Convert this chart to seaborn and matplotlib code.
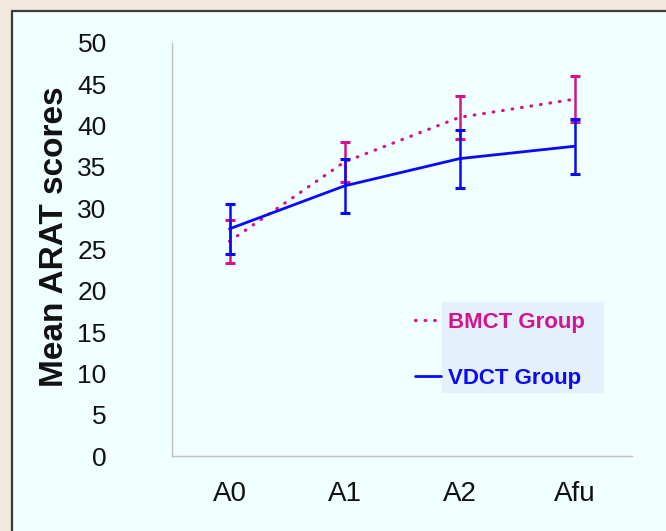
import matplotlib
matplotlib.use("Agg")
import matplotlib.pyplot as plt
from matplotlib.lines import Line2D
from matplotlib.patches import Rectangle
import numpy as np
import pandas as pd
import seaborn as sns

# values
timepoints = ["A0", "A1", "A2", "Afu"]
bmct_mean = [26.0, 35.6, 41.0, 43.2]
bmct_sd = [2.6, 2.4, 2.6, 2.8]
vdct_mean = [27.5, 32.7, 36.0, 37.5]
vdct_sd = [3.0, 3.3, 3.5, 3.35]

BMCT_COLOR = "#D4138C"
VDCT_COLOR = "#0A0AF5"
PANEL = "#F0FFFF"
DOTS = (0, (0.2, 2.8))

sns.set_theme(style="white")
plt.rcParams["font.family"] = ["Liberation Sans", "DejaVu Sans"]

df = pd.DataFrame({
    "time": timepoints * 2,
    "score": bmct_mean + vdct_mean,
    "group": ["BMCT Group"] * 4 + ["VDCT Group"] * 4,
})

fig = plt.figure(figsize=(6.66, 5.31), dpi=100, facecolor="#F1E8DE")
# slide panel behind the chart
fig.add_artist(Rectangle((12 / 666, -0.01), 1.0, 1 - 11 / 531 + 0.01,
                         transform=fig.transFigure, facecolor=PANEL,
                         edgecolor="#3C3C3C", lw=1.6, zorder=-5))
ax = fig.add_axes([172 / 666, 1 - 456 / 531, (632 - 172) / 666, (456 - 43) / 531])
ax.set_facecolor(PANEL)

bm = df[df["group"] == "BMCT Group"]
vd = df[df["group"] == "VDCT Group"]

sns.lineplot(data=bm, x="time", y="score", ax=ax, color=BMCT_COLOR, lw=2.3,
             sort=False)
ax.lines[-1].set_linestyle(DOTS)
ax.lines[-1].set_dash_capstyle("round")
ax.errorbar(timepoints, bmct_mean, yerr=bmct_sd, fmt="none", ecolor=BMCT_COLOR,
            elinewidth=1.8, capsize=3.3, capthick=2.2)
sns.lineplot(data=vd, x="time", y="score", ax=ax, color=VDCT_COLOR, lw=2.0,
             sort=False)
ax.errorbar(timepoints, vdct_mean, yerr=vdct_sd, fmt="none", ecolor=VDCT_COLOR,
            elinewidth=1.8, capsize=3.3, capthick=2.2)

ax.set_xlim(-0.5, 3.5)
ax.set_ylim(0, 50)
ax.set_yticks(np.arange(0, 51, 5))
ax.set_xlabel("")
ax.set_ylabel("Mean ARAT scores", fontsize=24, fontweight="bold", color="#111111")
ax.yaxis.set_label_coords(-0.222, 0.53)
ax.tick_params(axis="y", length=0, pad=47, labelsize=19, labelcolor="#111111")
ax.tick_params(axis="x", length=0, pad=18, labelsize=20, labelcolor="#111111")
for side in ["top", "right"]:
    ax.spines[side].set_visible(False)
for side in ["left", "bottom"]:
    ax.spines[side].set_color("#C0C0C0")
    ax.spines[side].set_linewidth(1.0)

# legend box
ax.add_patch(Rectangle((442 / 666, 1 - 393 / 531), 162 / 666, 91 / 531,
                       transform=fig.transFigure, facecolor="#E4F0FC",
                       edgecolor="none", zorder=1, clip_on=False))
handles = [Line2D([], [], color=BMCT_COLOR, lw=2.3, linestyle=DOTS,
                  dash_capstyle="round"),
           Line2D([], [], color=VDCT_COLOR, lw=2.0)]
ax.legend(handles, ["BMCT Group", "VDCT Group"], loc="upper left",
          bbox_to_anchor=(404 / 666, 1 - 301 / 531), bbox_transform=fig.transFigure,
          frameon=False, borderpad=0, handlelength=1.15, handletextpad=0.35,
          labelspacing=1.55, labelcolor=[BMCT_COLOR, VDCT_COLOR],
          prop={"weight": "bold", "size": 16})

fig.savefig("out.png", dpi=100, facecolor=fig.get_facecolor())
